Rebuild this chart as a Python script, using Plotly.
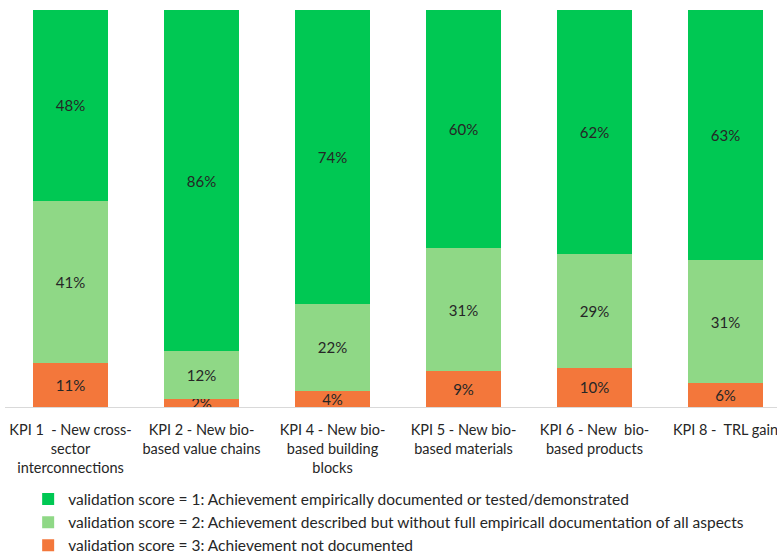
import plotly.graph_objects as go

categories = ["KPI1", "KPI2", "KPI4", "KPI5", "KPI6", "KPI8"]
tick_labels = [
    "KPI 1  - New cross-<br>sector<br>interconnections",
    "KPI 2 - New bio-<br>based value chains",
    "KPI 4 - New bio-<br>based building<br>blocks",
    "KPI 5 - New bio-<br>based materials",
    "KPI 6 - New  bio-<br>based products",
    "KPI 8 -  TRL gain",
]
score1 = [48, 86, 74, 60, 62, 63]
score2 = [41, 12, 22, 31, 29, 31]
score3 = [11, 2, 4, 9, 10, 6]

names = [
    "validation score = 3: Achievement not documented",
    "validation score = 2: Achievement described but without full empiricall documentation of all aspects",
    "validation score = 1: Achievement empirically documented or tested/demonstrated",
]
colors = ["#F3773B", "#8FD886", "#00C853"]
ranks = [3, 2, 1]
FONT = "Lato, 'Open Sans', sans-serif"

fig = go.Figure()
for i, (vals, name, col) in enumerate(zip([score3, score2, score1], names, colors)):
    fig.add_trace(go.Bar(
        x=list(range(len(categories))), y=vals, name=name,
        marker=dict(color=col, line=dict(width=0)),
        text=[f"{v}%" for v in vals], textposition="inside",
        insidetextanchor="middle",
        textfont=dict(color="#262626", size=15, family=FONT),
        width=0.573, legendgroup=f"g{i}", legendrank=ranks[i],
    ))

fig.update_layout(
    barmode="stack", barnorm="percent",
    width=777, height=553,
    margin=dict(l=5, r=0, t=10, b=146, autoexpand=False),
    plot_bgcolor="white", paper_bgcolor="white",
    font=dict(family=FONT, size=15, color="#262626"),
    uniformtext=dict(minsize=15, mode="show"),
    showlegend=True,
    legend=dict(orientation="v", x=0.03, xanchor="left", y=-0.19, yanchor="top",
                traceorder="grouped", tracegroupgap=0,
                font=dict(size=15.5, family=FONT, color="#262626"),
                itemwidth=30),
    xaxis=dict(tickmode="array", tickvals=list(range(len(categories))), ticktext=tick_labels,
               range=[-0.5, 5.393], showline=True, linecolor="#D9D9D9", linewidth=1,
               ticks="", showgrid=False, automargin=False, ticklabeloverflow="allow",
               ticklabelstandoff=10,
               tickfont=dict(size=14.5, family=FONT, color="#262626")),
    yaxis=dict(range=[0, 100], showticklabels=False, showgrid=False, zeroline=False,
               showline=False, ticks="", automargin=False),
)
fig.write_html("out.html")
